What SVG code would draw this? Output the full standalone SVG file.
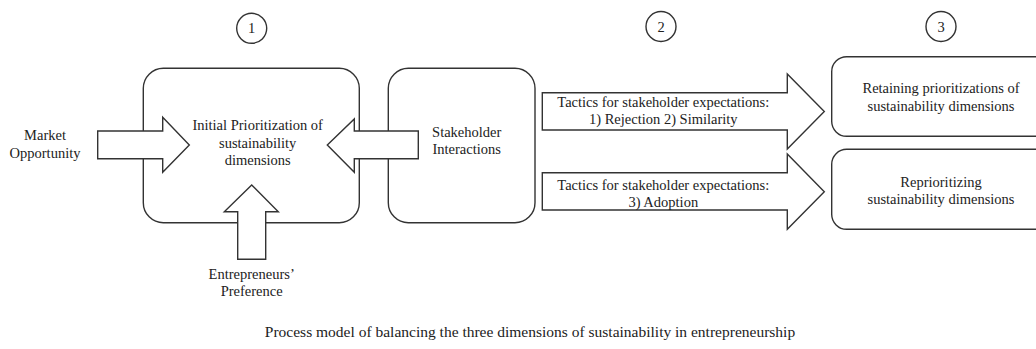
<svg xmlns="http://www.w3.org/2000/svg" width="1036" height="349" viewBox="0 0 1036 349">
<style>
.b{fill:#fff;stroke:#333;stroke-width:1.4}
.a{fill:#fff;stroke:#333;stroke-width:1.4;stroke-linejoin:miter}
text{font-family:"Liberation Serif","Times New Roman",serif;font-size:14.5px;fill:#222;text-anchor:middle}
.cap{font-size:15.5px}
</style>
<rect width="1036" height="349" fill="#fff"/>
<g id="step1"><circle class="b" cx="251.7" cy="28.3" r="15"/><text x="251.7" y="33.3">1</text></g>
<g id="step2"><circle class="b" cx="661" cy="26.5" r="15"/><text x="661" y="31.5">2</text></g>
<g id="step3"><circle class="b" cx="941" cy="26.5" r="15"/><text x="941" y="31.5">3</text></g>
<g id="initial"><rect class="b" x="143.3" y="68.3" width="216" height="154.4" rx="20"/>
<text x="257.7" y="130">Initial Prioritization of</text><text x="257.7" y="147.5">sustainability</text><text x="257.7" y="165">dimensions</text></g>
<g id="stakeholder"><rect class="b" x="388.3" y="68.3" width="146.7" height="154.4" rx="20"/>
<text x="466.7" y="136.7">Stakeholder</text><text x="466.7" y="154">Interactions</text></g>
<g id="retaining"><rect class="b" x="831.7" y="56.7" width="230" height="79.6" rx="15"/>
<text x="941" y="92.7">Retaining prioritizations of</text><text x="941" y="111">sustainability dimensions</text></g>
<g id="reprioritizing"><rect class="b" x="831.7" y="149.3" width="230" height="80" rx="15"/>
<text x="941" y="186.7">Reprioritizing</text><text x="941" y="204">sustainability dimensions</text></g>
<g id="market"><text x="45" y="140">Market</text><text x="45" y="157.5">Opportunity</text></g>
<g id="preference"><text x="251.7" y="278.5">Entrepreneurs’</text><text x="251.7" y="296">Preference</text></g>
<g id="connectors">
<polygon class="a" points="97.7,131 162.7,131 162.7,117.3 189.3,145 162.7,172.3 162.7,158.7 97.7,158.7"/>
<polygon class="a" points="327.3,145 354.3,119 354.3,131 418.3,131 418.3,158.7 354.3,158.7 354.3,172.3"/>
<polygon class="a" points="251.7,185 278.3,211.7 265.7,211.7 265.7,259.3 237.7,259.3 237.7,211.7 224.3,211.7"/>
<polygon class="a" points="542.3,92.7 787.3,92.7 787.3,74 824.3,111.5 787.3,149 787.3,130 542.3,130"/>
<polygon class="a" points="542.3,172.7 787.3,172.7 787.3,154 824.3,191.7 787.3,229.3 787.3,210 542.3,210"/>
<text x="663.3" y="106.5">Tactics for stakeholder expectations:</text><text x="663.3" y="124">1) Rejection 2) Similarity</text>
<text x="663.3" y="189.5">Tactics for stakeholder expectations:</text><text x="663.3" y="207">3) Adoption</text>
</g>
<text class="cap" x="530" y="337">Process model of balancing the three dimensions of sustainability in entrepreneurship</text>
</svg>
